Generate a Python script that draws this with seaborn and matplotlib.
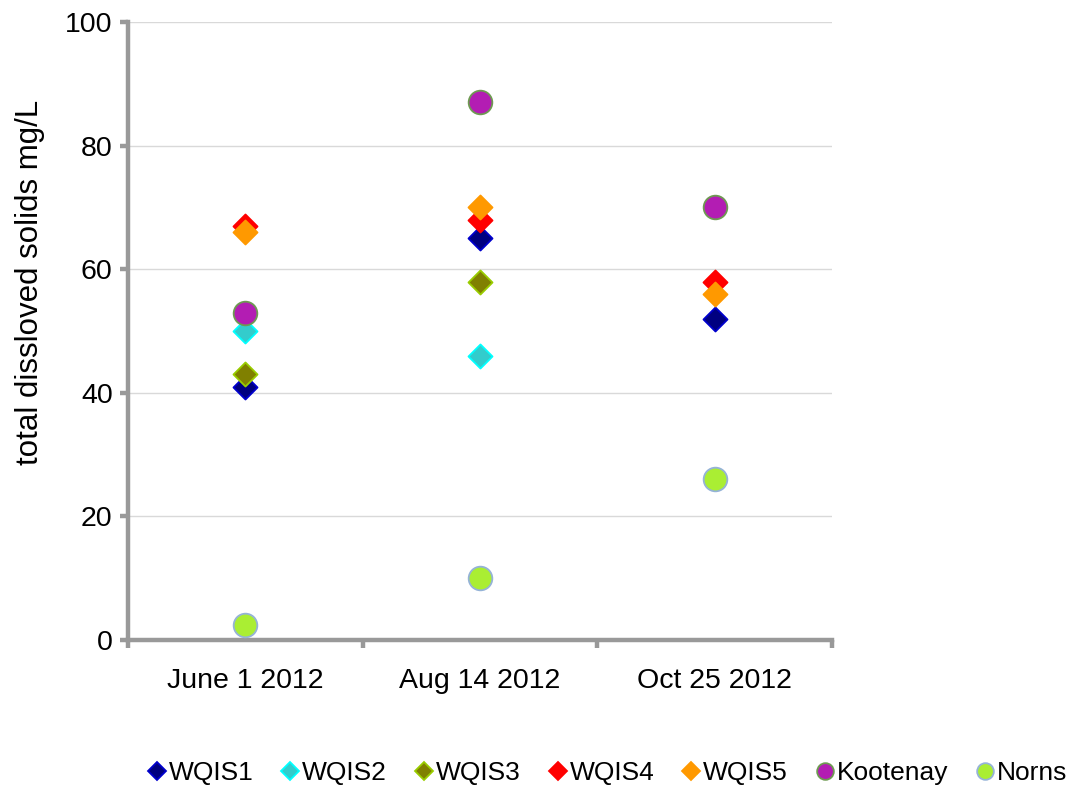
import matplotlib
matplotlib.use("Agg")
import matplotlib.pyplot as plt
from matplotlib.lines import Line2D
import seaborn as sns
import pandas as pd
import numpy as np

sns.set_theme(style="white")
plt.rcParams["font.family"] = ["Liberation Sans", "DejaVu Sans"]
plt.rcParams["text.color"] = "black"
plt.rcParams["axes.labelcolor"] = "black"
plt.rcParams["xtick.color"] = "black"
plt.rcParams["ytick.color"] = "black"

# Sampling dates
dates = ["June 1 2012", "Aug 14 2012", "Oct 25 2012"]

# Total dissolved solids (mg/L) per site; NaN = not sampled
wqis1 = [41, 65, 52]
wqis2 = [50, 46, np.nan]
wqis3 = [43, 58, np.nan]
wqis4 = [67, 68, 58]
wqis5 = [66, 70, 56]
kootenay = [53, 87, 70]
norns = [2.5, 10, 26]

sites = ["WQIS1", "WQIS2", "WQIS3", "WQIS4", "WQIS5", "Kootenay", "Norns"]
values = [wqis1, wqis2, wqis3, wqis4, wqis5, kootenay, norns]

# marker, face colour, edge colour
styles = {
    "WQIS1": ("D", "#000080", "#0000CC"),
    "WQIS2": ("D", "#33CCCC", "#00FFFF"),
    "WQIS3": ("D", "#808000", "#99CC00"),
    "WQIS4": ("D", "#FF0000", "#FF0000"),
    "WQIS5": ("D", "#FF9900", "#FF9900"),
    "Kootenay": ("o", "#B31DB3", "#6E9A52"),
    "Norns": ("o", "#AAEE33", "#95B3D7"),
}

rows = []
for site, vals in zip(sites, values):
    for d, v in zip(dates, vals):
        rows.append({"date": d, "site": site, "tds": v})
df = pd.DataFrame(rows)
df["x"] = df["date"].map({d: i for i, d in enumerate(dates)})

fig = plt.figure(figsize=(10.71, 7.89), dpi=100)
ax = fig.add_axes([0.1195, 0.1888, 0.6573, 0.7832])

for site in sites:
    m, fc, ec = styles[site]
    sub = df[df["site"] == site].dropna()
    size = 290 if m == "o" else 150
    sns.scatterplot(data=sub, x="x", y="tds", ax=ax, marker=m, color=fc,
                    edgecolor=ec, linewidth=1.3, s=size, legend=False, zorder=3)

ax.set_xlim(-0.5, 2.5)
ax.set_ylim(0, 100)
ax.set_yticks(np.arange(0, 101, 20))
ax.set_xticks([-0.5, 0.5, 1.5, 2.5])
ax.set_xticklabels([])
ax.set_xticks(range(len(dates)), minor=True)
ax.set_xticklabels(dates, minor=True, fontsize=20.5)
ax.tick_params(axis="x", which="minor", bottom=True, length=0, pad=20)
ax.tick_params(axis="x", which="major", bottom=True, length=6, width=3.2,
               color="#999999", direction="out")
ax.tick_params(axis="y", which="major", left=True, length=6, width=3.2,
               color="#999999", direction="out", labelsize=20.5, pad=5)
ax.set_xlabel("")
ax.set_ylabel("total dissloved solids mg/L", fontsize=22.5)
ax.yaxis.set_label_coords(-0.118, 0.578)

ax.grid(axis="y", color="#D9D9D9", linewidth=1.0, zorder=0)
ax.set_axisbelow(True)
for side in ["top", "right"]:
    ax.spines[side].set_visible(False)
for side in ["left", "bottom"]:
    ax.spines[side].set_color("#999999")
    ax.spines[side].set_linewidth(3.2)

handles = []
for site in sites:
    m, fc, ec = styles[site]
    ms = 12 if m == "o" else 9
    handles.append(Line2D([0], [0], marker=m, linestyle="none", markersize=ms,
                          markerfacecolor=fc, markeredgecolor=ec,
                          markeredgewidth=1.3, label=site))
fig.legend(handles=handles, loc="center", bbox_to_anchor=(0.566, 0.02),
           ncol=7, frameon=False, fontsize=19, handletextpad=0.0,
           columnspacing=0.95, handlelength=0.9, borderaxespad=0)

fig.savefig("out.png", dpi=100)
